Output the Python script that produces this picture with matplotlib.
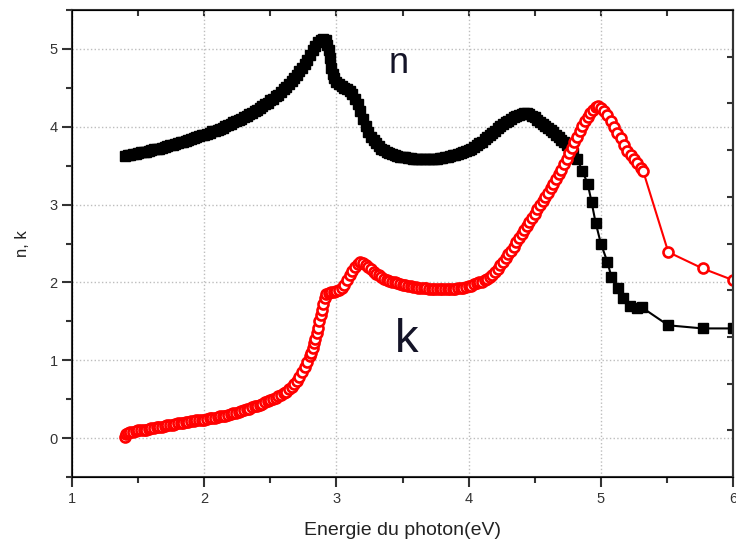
# indices n and k versus photon energy
import matplotlib.pyplot as plt

plt.rcParams['font.family'] = ['Liberation Sans', 'DejaVu Sans']

# n (black squares)
n_energy = [1.40, 1.42, 1.44, 1.46, 1.48, 1.50, 1.52, 1.54, 1.56, 1.58,
            1.60, 1.62, 1.64, 1.66, 1.68, 1.70, 1.72, 1.74, 1.76, 1.78,
            1.80, 1.82, 1.84, 1.86, 1.88, 1.90, 1.92, 1.94, 1.96, 1.98,
            2.00, 2.02, 2.04, 2.06, 2.08, 2.10, 2.12, 2.14, 2.16, 2.18,
            2.20, 2.22, 2.24, 2.26, 2.28, 2.30, 2.32, 2.34, 2.36, 2.38,
            2.40, 2.42, 2.44, 2.46, 2.48, 2.50, 2.52, 2.54, 2.56, 2.58,
            2.60, 2.62, 2.64, 2.66, 2.68, 2.70, 2.72, 2.74, 2.76, 2.78,
            2.80, 2.82, 2.84, 2.86, 2.88, 2.90, 2.92, 2.93, 2.94, 2.95,
            2.96, 2.97, 2.98, 3.00, 3.02, 3.04, 3.06, 3.08, 3.10, 3.12,
            3.14, 3.16, 3.18, 3.20, 3.22, 3.24, 3.26, 3.28, 3.30, 3.32,
            3.34, 3.36, 3.38, 3.40, 3.42, 3.44, 3.46, 3.48, 3.50, 3.52,
            3.54, 3.56, 3.58, 3.60, 3.62, 3.64, 3.66, 3.68, 3.70, 3.72,
            3.74, 3.76, 3.78, 3.80, 3.82, 3.84, 3.86, 3.88, 3.90, 3.92,
            3.94, 3.96, 3.98, 4.00, 4.02, 4.04, 4.06, 4.08, 4.10, 4.12,
            4.14, 4.16, 4.18, 4.20, 4.22, 4.24, 4.26, 4.28, 4.30, 4.32,
            4.34, 4.36, 4.38, 4.40, 4.42, 4.44, 4.46, 4.48, 4.50, 4.52,
            4.54, 4.56, 4.58, 4.60, 4.62, 4.64, 4.66, 4.68, 4.70, 4.72,
            4.74, 4.76, 4.79, 4.82, 4.86, 4.90, 4.93, 4.96, 5.00, 5.05,
            5.08, 5.13, 5.17, 5.22, 5.27, 5.31, 5.51, 5.77, 6.00]
n_vals = [3.63, 3.635, 3.64, 3.645, 3.65, 3.66, 3.67, 3.675, 3.68, 3.69,
          3.70, 3.71, 3.715, 3.72, 3.73, 3.74, 3.75, 3.76, 3.77, 3.78,
          3.79, 3.80, 3.81, 3.82, 3.83, 3.84, 3.85, 3.865, 3.88, 3.89,
          3.90, 3.91, 3.925, 3.94, 3.95, 3.96, 3.975, 3.99, 4.01, 4.02,
          4.04, 4.055, 4.07, 4.09, 4.10, 4.12, 4.14, 4.16, 4.18, 4.20,
          4.22, 4.24, 4.265, 4.29, 4.31, 4.34, 4.36, 4.39, 4.41, 4.44,
          4.48, 4.51, 4.55, 4.59, 4.63, 4.67, 4.71, 4.76, 4.81, 4.86,
          4.92, 4.98, 5.04, 5.09, 5.12, 5.13, 5.11, 5.05, 4.98, 4.88,
          4.76, 4.68, 4.63, 4.58, 4.55, 4.52, 4.50, 4.48, 4.46, 4.42,
          4.36, 4.29, 4.20, 4.10, 4.01, 3.93, 3.87, 3.83, 3.79, 3.75,
          3.72, 3.70, 3.68, 3.66, 3.65, 3.635, 3.625, 3.615, 3.61, 3.605,
          3.60, 3.595, 3.59, 3.59, 3.59, 3.59, 3.59, 3.59, 3.59, 3.59,
          3.59, 3.59, 3.595, 3.60, 3.605, 3.615, 3.625, 3.635, 3.64, 3.655,
          3.665, 3.68, 3.69, 3.70, 3.72, 3.74, 3.76, 3.785, 3.81, 3.84,
          3.865, 3.89, 3.92, 3.95, 3.98, 4.01, 4.03, 4.06, 4.08, 4.10,
          4.12, 4.14, 4.15, 4.16, 4.17, 4.17, 4.16, 4.14, 4.12, 4.09,
          4.065, 4.04, 4.01, 3.98, 3.955, 3.93, 3.90, 3.87, 3.835, 3.80,
          3.76, 3.72, 3.66, 3.59, 3.43, 3.27, 3.03, 2.77, 2.50, 2.26,
          2.07, 1.93, 1.80, 1.70, 1.67, 1.68, 1.45, 1.41, 1.41]

# k (red open circles)
k_energy = [1.40, 1.41, 1.42, 1.44, 1.46, 1.48, 1.50, 1.52, 1.54, 1.56,
            1.58, 1.60, 1.62, 1.64, 1.66, 1.68, 1.70, 1.72, 1.74, 1.76,
            1.78, 1.80, 1.82, 1.84, 1.86, 1.88, 1.90, 1.92, 1.94, 1.96,
            1.98, 2.00, 2.02, 2.04, 2.06, 2.08, 2.10, 2.12, 2.14, 2.16,
            2.18, 2.20, 2.22, 2.24, 2.26, 2.28, 2.30, 2.32, 2.34, 2.36,
            2.38, 2.40, 2.42, 2.44, 2.46, 2.48, 2.50, 2.52, 2.54, 2.56,
            2.58, 2.60, 2.62, 2.64, 2.66, 2.68, 2.70, 2.72, 2.74, 2.76,
            2.78, 2.80, 2.81, 2.82, 2.83, 2.84, 2.85, 2.86, 2.87, 2.88,
            2.89, 2.90, 2.91, 2.92, 2.94, 2.96, 2.98, 3.00, 3.02, 3.04,
            3.06, 3.08, 3.10, 3.12, 3.14, 3.16, 3.18, 3.20, 3.22, 3.24,
            3.26, 3.28, 3.30, 3.32, 3.34, 3.36, 3.38, 3.40, 3.42, 3.44,
            3.46, 3.48, 3.50, 3.52, 3.54, 3.56, 3.58, 3.60, 3.62, 3.64,
            3.66, 3.68, 3.70, 3.72, 3.74, 3.76, 3.78, 3.80, 3.82, 3.84,
            3.86, 3.88, 3.90, 3.92, 3.94, 3.96, 3.98, 4.00, 4.02, 4.04,
            4.06, 4.08, 4.10, 4.12, 4.14, 4.16, 4.18, 4.20, 4.22, 4.24,
            4.26, 4.28, 4.30, 4.32, 4.34, 4.36, 4.38, 4.40, 4.42, 4.44,
            4.46, 4.48, 4.50, 4.52, 4.54, 4.56, 4.58, 4.60, 4.62, 4.64,
            4.66, 4.68, 4.70, 4.72, 4.74, 4.76, 4.78, 4.80, 4.82, 4.84,
            4.86, 4.88, 4.90, 4.92, 4.94, 4.96, 4.98, 5.00, 5.025, 5.05,
            5.075, 5.10, 5.125, 5.15, 5.175, 5.20, 5.225, 5.25, 5.275, 5.30,
            5.32, 5.51, 5.77, 6.00]
k_vals = [0.02, 0.05, 0.07, 0.08, 0.085, 0.09, 0.10, 0.10, 0.105, 0.11,
          0.12, 0.13, 0.13, 0.14, 0.145, 0.15, 0.16, 0.165, 0.17, 0.175,
          0.18, 0.19, 0.195, 0.20, 0.205, 0.21, 0.22, 0.225, 0.23, 0.235,
          0.24, 0.24, 0.25, 0.255, 0.26, 0.265, 0.27, 0.28, 0.285, 0.29,
          0.30, 0.31, 0.32, 0.33, 0.34, 0.35, 0.36, 0.37, 0.38, 0.395,
          0.41, 0.42, 0.43, 0.445, 0.46, 0.475, 0.49, 0.505, 0.52, 0.54,
          0.56, 0.58, 0.60, 0.63, 0.66, 0.70, 0.74, 0.79, 0.85, 0.91,
          0.98, 1.05, 1.10, 1.16, 1.22, 1.28, 1.35, 1.42, 1.50, 1.58,
          1.65, 1.73, 1.80, 1.85, 1.87, 1.88, 1.88, 1.89, 1.90, 1.93,
          1.97, 2.03, 2.09, 2.15, 2.20, 2.24, 2.26, 2.25, 2.23, 2.20,
          2.17, 2.14, 2.115, 2.09, 2.07, 2.05, 2.035, 2.02, 2.01, 2.00,
          1.99, 1.98, 1.97, 1.965, 1.955, 1.95, 1.945, 1.94, 1.935, 1.93,
          1.93, 1.925, 1.92, 1.92, 1.92, 1.915, 1.915, 1.915, 1.915, 1.915,
          1.92, 1.92, 1.92, 1.925, 1.93, 1.935, 1.94, 1.95, 1.96, 1.975,
          1.99, 2.00, 2.01, 2.03, 2.05, 2.07, 2.10, 2.13, 2.17, 2.22,
          2.26, 2.31, 2.36, 2.41, 2.46, 2.52, 2.57, 2.62, 2.68, 2.73,
          2.78, 2.83, 2.88, 2.94, 2.99, 3.05, 3.10, 3.15, 3.21, 3.27,
          3.33, 3.39, 3.45, 3.52, 3.59, 3.66, 3.73, 3.80, 3.87, 3.94,
          4.01, 4.07, 4.12, 4.18, 4.22, 4.25, 4.26, 4.24, 4.20, 4.15,
          4.08, 4.00, 3.92, 3.85, 3.77, 3.69, 3.64, 3.58, 3.53, 3.47,
          3.43, 2.39, 2.18, 2.03]

x_ticks = [1, 2, 3, 4, 5, 6]
y_ticks = [0, 1, 2, 3, 4, 5]

fig = plt.figure(figsize=(7.36, 5.51), dpi=100)
ax = fig.add_axes([0.098, 0.134, 0.898, 0.848])

ax.plot(n_energy, n_vals, color='black', lw=1.5, marker='s', ms=7.5,
        mfc='black', mec='black', zorder=3)
ax.plot(k_energy, k_vals, color='red', lw=1.5, marker='o', ms=7.2,
        mfc='white', mec='red', mew=1.9, zorder=4)

ax.text(3.47, 4.69, 'n', fontsize=26, color='#141428', ha='center', va='baseline')
ax.text(3.53, 1.11, 'k', fontsize=34, color='#141428', ha='center', va='baseline')

ax.set_xlim(1, 6)
ax.set_ylim(-0.5, 5.5)
ax.set_xticks(x_ticks)
ax.set_yticks(y_ticks)
ax.set_xticks([1.5, 2.5, 3.5, 4.5, 5.5], minor=True)
ax.set_yticks([-0.5, 0.5, 1.5, 2.5, 3.5, 4.5, 5.5], minor=True)
ax.grid(True, which='major', ls=':', color='#bdbdbd', lw=1)
ax.set_axisbelow(True)

ax.tick_params(which='major', direction='out', length=7, width=1.5,
               color='#333333', labelsize=10.5, labelcolor='#333333')
ax.tick_params(which='minor', direction='out', length=4, width=1.5,
               color='#333333')
for s in ax.spines.values():
    s.set_color('#333333')
    s.set_linewidth(1.5)

# top ticks inward
top = ax.secondary_xaxis('top')
top.set_xticks([1.5, 2, 2.5, 3, 3.5, 4, 4.5, 5, 5.5])
top.tick_params(direction='in', length=4, width=1.5, color='#333333',
                labeltop=False)
top.spines['top'].set_visible(False)

# right ticks inward, different spacing
right = ax.twinx()
right.set_ylim(0, 10)
right.set_yticks(range(1, 10))
right.tick_params(direction='in', length=4, width=1.5, color='#333333',
                  labelright=False)
right.spines['right'].set_color('#333333')
right.spines['right'].set_linewidth(1.5)

ax.set_xlabel('Energie du photon(eV)', fontsize=14, color='#222222', labelpad=12)
ax.set_ylabel('n, k', fontsize=12, color='#222222', labelpad=14)

fig.savefig('out.png', dpi=100)
